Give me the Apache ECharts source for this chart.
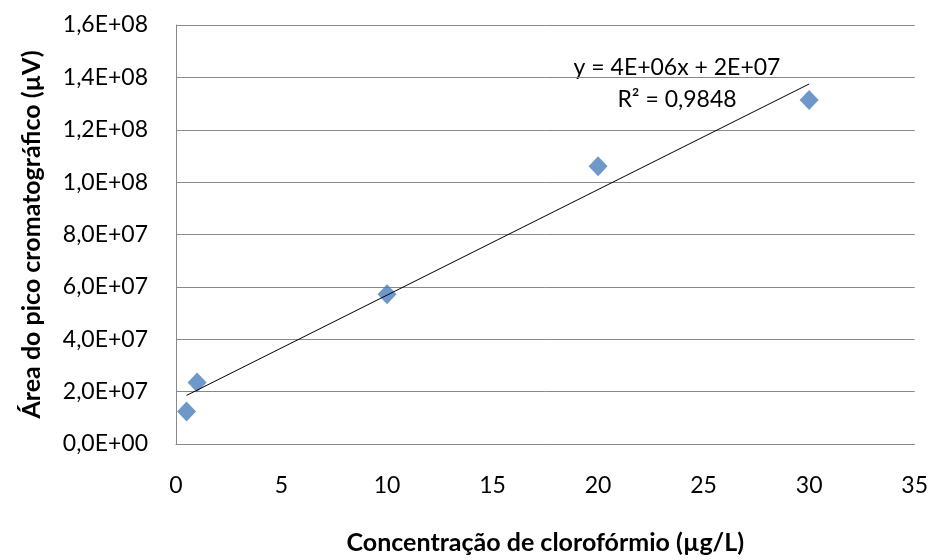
<!DOCTYPE html>
<html>
<head>
<meta charset="utf-8">
<script src="https://cdn.jsdelivr.net/npm/echarts@6/dist/echarts.min.js"></script>
<style>
  html, body { margin: 0; padding: 0; background: #fff; }
  #chart { width: 931px; height: 560px; }
</style>
</head>
<body>
<div id="chart"></div>
<script>
// concentration (µg/L) and peak area (µV)
const concentrations = [0.5, 1, 10, 20, 30];
const peakAreas = [1.24e7, 2.35e7, 5.72e7, 1.061e8, 1.314e8];
const equationText = "y = 4E+06x + 2E+07";
const r2Text = "R² = 0,9848";

// least-squares fit, drawn between the first and last concentration
const n = concentrations.length;
const mx = concentrations.reduce((a, b) => a + b, 0) / n;
const my = peakAreas.reduce((a, b) => a + b, 0) / n;
let sxy = 0, sxx = 0;
for (let i = 0; i < n; i++) {
  sxy += (concentrations[i] - mx) * (peakAreas[i] - my);
  sxx += (concentrations[i] - mx) ** 2;
}
const slope = sxy / sxx;
const intercept = my - slope * mx;
const xMin = Math.min(...concentrations);
const xMax = Math.max(...concentrations);
const trendLine = [[xMin, intercept + slope * xMin], [xMax, intercept + slope * xMax]];

const fmtSci = (v) => {
  if (v === 0) return "0,0E+00";
  const exp = Math.floor(Math.log10(Math.abs(v)));
  const mant = (v / Math.pow(10, exp)).toFixed(1).replace(".", ",");
  return mant + "E+" + String(exp).padStart(2, "0");
};

const font = "Lato, 'Liberation Sans', sans-serif";
const chart = echarts.init(document.getElementById("chart"));

chart.setOption({
  backgroundColor: "#fff",
  animation: false,
  textStyle: { fontFamily: font },
  grid: { left: 176, right: 14, top: 25, bottom: 112 },
  xAxis: {
    type: "value",
    min: 0, max: 35, interval: 5,
    name: "Concentração de clorofórmio (µg/L)",
    nameLocation: "middle",
    nameGap: 86,
    nameTextStyle: { fontSize: 25, fontWeight: "bold", color: "#000", fontFamily: font },
    axisLine: { show: true, lineStyle: { color: "#898989" } },
    axisTick: { show: false },
    splitLine: { show: false },
    axisLabel: { fontSize: 23, color: "#000", margin: 30 }
  },
  yAxis: {
    type: "value",
    min: 0, max: 1.6e8, interval: 2e7,
    name: "Área do pico cromatográfico (µV)",
    nameLocation: "middle",
    nameGap: 132,
    nameTextStyle: { fontSize: 25, fontWeight: "bold", color: "#000", fontFamily: font },
    axisLine: { show: true, lineStyle: { color: "#898989" } },
    axisTick: { show: false },
    splitLine: { show: true, lineStyle: { color: "#898989", width: 1 } },
    axisLabel: { fontSize: 23, color: "#000", margin: 28, formatter: fmtSci }
  },
  graphic: [
    {
      type: "text", x: 677, y: 68,
      style: { text: equationText, font: "23px " + font, fill: "#000", align: "center", verticalAlign: "middle" }
    },
    {
      type: "text", x: 677, y: 100,
      style: { text: r2Text, font: "23px " + font, fill: "#000", align: "center", verticalAlign: "middle" }
    }
  ],
  series: [
    {
      type: "line",
      data: trendLine,
      symbol: "none",
      lineStyle: { color: "#000", width: 1 },
      z: 3
    },
    {
      type: "scatter",
      data: concentrations.map((c, i) => [c, peakAreas[i]]),
      symbol: "diamond",
      symbolSize: [19, 20],
      itemStyle: { color: "#4a7ebb" },
      z: 2
    }
  ]
});
</script>
</body>
</html>
